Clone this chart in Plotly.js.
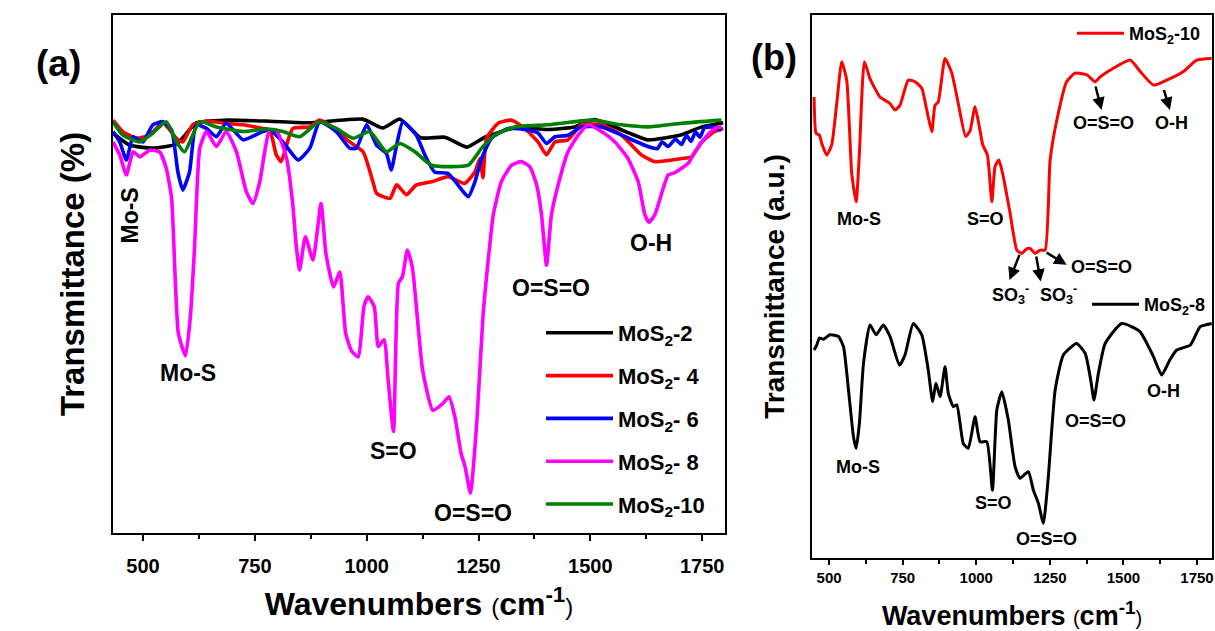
<!DOCTYPE html>
<html>
<head>
<meta charset="utf-8">
<script src="https://cdn.plot.ly/plotly-3.0.1.min.js"></script>
<style>html,body{margin:0;padding:0;background:#fff;}#chart{width:1215px;height:631px;}</style>
</head>
<body>
<div id="chart"></div>
<script>
// ---------- Panel (a): FTIR spectra, wavenumber (cm-1) vs transmittance (%) ----------
const wnMoS2_2 = [433, 470, 522, 575, 620, 687, 783, 873, 991, 1036, 1074, 1121, 1175, 1224, 1264, 1331, 1405, 1465, 1510, 1584, 1628, 1704, 1749, 1797];
const tMoS2_2  = [77.2, 74.9, 74.3, 75.1, 79.2, 79.7, 79.5, 79.2, 79.9, 78.2, 79.9, 76.3, 76.4, 74.5, 76.4, 78.2, 77.9, 78.4, 79.8, 77.3, 75.9, 76.9, 78.4, 79.2];

const wnMoS2_4 = [433, 455, 485, 515, 544, 575, 589, 611, 642, 686, 723, 761, 783, 798, 809, 821, 835, 873, 895, 932, 962, 992, 1014, 1022, 1052, 1067, 1089, 1111, 1145, 1182, 1219, 1242, 1253, 1260, 1268, 1294, 1324, 1353, 1383, 1402, 1421, 1450, 1480, 1525, 1570, 1614, 1644, 1704, 1726, 1749, 1778, 1797];
const tMoS2_4  = [79.7, 77.5, 76.2, 76.8, 79.2, 76.2, 75.5, 78.8, 79.5, 79.1, 78.8, 78.2, 77.8, 73.0, 71.7, 74.9, 78.1, 78.4, 79.7, 77.8, 75.5, 73.6, 67.8, 65.6, 64.6, 67.2, 65.3, 67.2, 67.8, 68.8, 67.5, 69.7, 72.3, 68.6, 76.2, 79.1, 79.7, 78.1, 75.5, 73.0, 75.5, 75.9, 78.8, 78.8, 76.8, 73.0, 71.7, 72.3, 72.6, 75.5, 77.5, 78.1];

const wnMoS2_6 = [433, 448, 463, 478, 500, 522, 545, 564, 578, 589, 604, 619, 642, 664, 686, 724, 768, 783, 813, 847, 873, 895, 932, 962, 977, 1000, 1022, 1044, 1055, 1067, 1081, 1111, 1130, 1152, 1182, 1204, 1227, 1242, 1257, 1279, 1316, 1361, 1383, 1402, 1421, 1450, 1480, 1525, 1570, 1629, 1650, 1660, 1674, 1690, 1704, 1715, 1725, 1735, 1745, 1755, 1771, 1793];
const tMoS2_6  = [77.5, 75.5, 72.0, 76.5, 75.5, 78.8, 79.4, 77.8, 69.7, 66.2, 69.7, 78.8, 78.1, 76.5, 79.1, 75.9, 77.5, 77.8, 75.5, 72.0, 74.3, 79.4, 77.5, 74.3, 74.3, 78.8, 74.9, 73.3, 70.1, 74.9, 79.4, 76.8, 73.0, 69.7, 69.4, 67.2, 64.9, 67.8, 72.3, 76.2, 78.1, 77.8, 77.2, 75.2, 76.5, 76.8, 78.4, 78.4, 76.8, 74.6, 74.2, 75.5, 74.6, 76.0, 75.0, 76.8, 75.6, 77.4, 76.4, 78.2, 78.4, 77.8];

const wnMoS2_8 = [433, 448, 463, 478, 493, 515, 537, 552, 564, 579, 595, 606, 615, 627, 642, 664, 686, 709, 731, 746, 761, 783, 798, 821, 835, 842, 850, 863, 880, 898, 909, 926, 940, 953, 966, 981, 994, 1003, 1017, 1026, 1039, 1048, 1060, 1071, 1080, 1091, 1102, 1125, 1148, 1170, 1184, 1197, 1211, 1220, 1232, 1247, 1260, 1274, 1283, 1301, 1324, 1346, 1365, 1380, 1391, 1402, 1413, 1428, 1450, 1473, 1495, 1525, 1555, 1584, 1607, 1622, 1631, 1644, 1674, 1690, 1704, 1720, 1734, 1756, 1778, 1793];
const tMoS2_8  = [75.5, 73.0, 69.1, 73.6, 72.6, 73.9, 73.6, 70.4, 64.6, 38.6, 34.2, 41.8, 54.6, 74.3, 77.5, 74.6, 77.5, 73.6, 65.9, 63.6, 67.8, 77.8, 77.8, 72.3, 63.3, 56.0, 50.8, 57.2, 52.7, 63.6, 53.9, 47.5, 50.4, 38.6, 35.2, 34.0, 43.7, 45.6, 43.7, 36.0, 37.3, 29.5, 19.6, 48.2, 49.5, 54.6, 51.4, 31.5, 23.7, 25.0, 26.3, 22.5, 15.4, 12.8, 7.7, 22.5, 41.8, 54.6, 61.4, 67.8, 71.0, 71.7, 70.7, 67.2, 61.4, 51.7, 61.4, 67.2, 73.6, 76.8, 78.8, 77.5, 75.5, 72.3, 67.8, 61.4, 60.0, 61.4, 69.1, 69.6, 70.4, 71.5, 73.6, 76.2, 78.1, 78.4];

const wnMoS2_10 = [433, 455, 493, 522, 552, 575, 593, 627, 664, 724, 776, 813, 850, 895, 932, 970, 1007, 1044, 1074, 1108, 1145, 1227, 1257, 1286, 1331, 1406, 1503, 1570, 1629, 1704, 1793];
const tMoS2_10  = [79.4, 76.8, 75.5, 77.2, 79.4, 75.5, 73.6, 79.4, 78.4, 77.5, 78.0, 77.5, 76.5, 79.4, 78.1, 76.2, 77.5, 73.6, 75.2, 73.6, 71.0, 71.0, 74.3, 76.8, 78.4, 78.8, 79.7, 78.8, 78.4, 79.1, 79.7];

const seriesNamesA = ["MoS<sub>2</sub>-2", "MoS<sub>2</sub>- 4", "MoS<sub>2</sub>- 6", "MoS<sub>2</sub>- 8", "MoS<sub>2</sub>-10"];
const seriesColorsA = ["#000000", "#ff0000", "#0000ff", "#ff00ff", "#008000"];

// Peak labels, panel (a)
const labelTextA = ["Mo-S", "Mo-S", "S=O", "O=S=O", "O=S=O", "O-H"];
const labelWnA   = [470, 600, 1060, 1237, 1411, 1635];
const labelTA    = [61.2, 30.9, 15.8, 3.8, 47.3, 56.0];
const labelRotA  = [-90, 0, 0, 0, 0, 0];

// ---------- Panel (b) ----------
const wnB10 = [449, 456, 467, 475, 492, 509, 526, 543, 560, 577, 592, 603, 620, 639, 673, 707, 724, 741, 769, 792, 815, 832, 849, 860, 871, 894, 917, 939, 964, 979, 996, 1013, 1022, 1038, 1053, 1064, 1077, 1092, 1115, 1138, 1155, 1170, 1183, 1200, 1217, 1234, 1251, 1274, 1307, 1336, 1375, 1404, 1421, 1466, 1523, 1557, 1602, 1647, 1704, 1749, 1800];
const tB10  = [84.9, 78.2, 77.9, 76.4, 74.2, 76.1, 83.7, 91.4, 88.0, 70.8, 65.6, 74.5, 91.4, 88.3, 84.9, 83.7, 82.5, 83.4, 88.0, 87.7, 86.5, 82.5, 78.5, 83.4, 84.0, 92.0, 89.3, 83.7, 77.6, 78.7, 83.1, 78.7, 76.1, 74.2, 65.6, 72.1, 73.3, 70.2, 63.5, 56.7, 56.1, 56.9, 57.0, 56.1, 56.7, 56.7, 73.3, 80.7, 87.7, 89.3, 89.0, 87.7, 88.6, 90.2, 91.7, 89.6, 87.1, 88.0, 89.6, 91.7, 92.0];

const wnB8 = [449, 458, 467, 481, 503, 532, 549, 566, 583, 592, 603, 617, 639, 660, 684, 707, 739, 758, 786, 815, 837, 852, 863, 877, 894, 905, 922, 934, 956, 973, 996, 1013, 1036, 1055, 1070, 1087, 1109, 1132, 1149, 1177, 1194, 1211, 1228, 1245, 1268, 1296, 1341, 1370, 1389, 1400, 1415, 1438, 1494, 1556, 1602, 1630, 1658, 1681, 1727, 1761, 1800];
const tB8  = [38.3, 39.2, 40.5, 40.3, 41.1, 40.8, 38.9, 30.9, 22.3, 20.2, 24.8, 35.9, 42.9, 41.1, 42.9, 40.8, 35.5, 37.4, 43.2, 41.1, 34.6, 28.8, 32.2, 29.7, 35.2, 30.3, 27.9, 28.2, 21.1, 20.2, 26.0, 21.4, 21.4, 12.5, 27.3, 30.6, 25.4, 16.8, 14.7, 15.9, 12.5, 10.1, 6.4, 15.0, 30.9, 37.4, 39.5, 37.7, 32.8, 29.1, 34.0, 39.5, 43.2, 41.7, 37.1, 33.7, 36.5, 38.3, 39.2, 42.6, 43.2];

// Peak labels, panel (b)
const labelTextB = ["Mo-S", "S=O", "O=S=O", "O-H", "SO<sub>3</sub><sup>-</sup>", "SO<sub>3</sub><sup>-</sup>", "O=S=O", "Mo-S", "S=O", "O=S=O", "O=S=O", "O-H"];
const labelWnB   = [601, 1030, 1432, 1662, 1115, 1278, 1427, 597, 1060, 1240, 1404, 1636];
const labelTB    = [62.4, 62.4, 80.1, 80.1, 48.5, 48.5, 53.6, 16.8, 10.2, 3.5, 25.3, 30.8];

// Arrows, panel (b): from curve (tail) to label (head)
const arrowTailWn = [1404, 1636, 1149, 1203, 1234];
const arrowTailT  = [87.1, 86.5, 56.1, 55.8, 56.4];
const arrowHeadWn = [1426, 1658, 1113, 1219, 1307];
const arrowHeadT  = [82.5, 82.5, 51.2, 50.9, 54.0];

// ---------- Build ----------
const FONT = "Liberation Sans, Arial, sans-serif";
const xA = [wnMoS2_2, wnMoS2_4, wnMoS2_6, wnMoS2_8, wnMoS2_10];
const yA = [tMoS2_2, tMoS2_4, tMoS2_6, tMoS2_8, tMoS2_10];

const traces = xA.map((xs, i) => ({
  type: "scatter", mode: "lines", x: xs, y: yA[i],
  name: seriesNamesA[i], legendgroup: "g" + i, legendrank: i + 1,
  line: {color: seriesColorsA[i], width: 3.6, shape: "spline", smoothing: 0.5},
  xaxis: "x", yaxis: "y", legend: "legend", hoverinfo: "skip"
}));
traces.push({
  type: "scatter", mode: "lines", x: wnB10, y: tB10, name: "MoS<sub>2</sub>-10",
  line: {color: "#ff0000", width: 3, shape: "spline", smoothing: 0.5},
  xaxis: "x2", yaxis: "y2", legend: "legend2", hoverinfo: "skip"
});
traces.push({
  type: "scatter", mode: "lines", x: wnB8, y: tB8, name: "MoS<sub>2</sub>-8",
  line: {color: "#000000", width: 3, shape: "spline", smoothing: 0.5},
  xaxis: "x2", yaxis: "y2", legend: "legend3", hoverinfo: "skip"
});

const annotations = [];
labelTextA.forEach((t, i) => annotations.push({
  xref: "x", yref: "y", x: labelWnA[i], y: labelTA[i], text: t, showarrow: false,
  textangle: labelRotA[i], font: {family: FONT, size: 23, weight: "bold", color: "#000"}
}));
labelTextB.forEach((t, i) => annotations.push({
  xref: "x2", yref: "y2", x: labelWnB[i], y: labelTB[i], text: t, showarrow: false,
  font: {family: FONT, size: 18, weight: "bold", color: "#000"}
}));
arrowHeadWn.forEach((w, i) => annotations.push({
  xref: "x2", yref: "y2", x: w, y: arrowHeadT[i], axref: "x2", ayref: "y2",
  ax: arrowTailWn[i], ay: arrowTailT[i], text: "", showarrow: true,
  arrowhead: 2, arrowsize: 1, arrowwidth: 2.5, arrowcolor: "#000"
}));
annotations.push({xref: "paper", yref: "paper", x: 34 / 1215, y: 1 - 41 / 631, text: "(a)", showarrow: false,
  font: {family: FONT, size: 37, weight: "bold", color: "#000"}});
annotations.push({xref: "paper", yref: "paper", x: 774 / 1215, y: 1 - 35 / 631, text: "(b)", showarrow: false,
  font: {family: FONT, size: 36, weight: "bold", color: "#000"}});

const axisLine = {showline: true, linewidth: 2, linecolor: "#000", mirror: true, showgrid: false, zeroline: false};

const layout = {
  width: 1215, height: 631,
  margin: {l: 0, r: 0, t: 0, b: 0},
  paper_bgcolor: "#fff", plot_bgcolor: "#fff",
  font: {family: FONT, color: "#000"},
  xaxis: Object.assign({}, axisLine, {
    domain: [113 / 1215, 725 / 1215], anchor: "y", range: [433, 1801],
    tick0: 500, dtick: 250, ticks: "outside", ticklen: 6, tickwidth: 2, tickcolor: "#000",
    ticklabelstandoff: 8,
    tickfont: {family: FONT, size: 20, weight: "bold"},
    minor: {tick0: 500, dtick: 125, ticks: "outside", ticklen: 4, tickwidth: 2, tickcolor: "#000", showgrid: false},
    title: {text: "Wavenumbers <span style='font-size:24px;font-weight:normal'>(</span>cm<sup>-1</sup><span style='font-size:24px;font-weight:normal'>)</span>",
      font: {family: FONT, size: 32, weight: "bold"}, standoff: 17}
  }),
  yaxis: Object.assign({}, axisLine, {
    domain: [98 / 631, 616 / 631], anchor: "x", range: [0, 100],
    ticks: "", showticklabels: false,
    title: {text: "Transmittance (%)", font: {family: FONT, size: 33, weight: "bold"}, standoff: 16}
  }),
  xaxis2: Object.assign({}, axisLine, {
    domain: [812 / 1215, 1212 / 1215], anchor: "y2", range: [442, 1801],
    tick0: 500, dtick: 250, ticks: "outside", ticklen: 5, tickwidth: 2, tickcolor: "#000",
    ticklabelstandoff: 0,
    tickfont: {family: FONT, size: 15, weight: "bold"},
    minor: {tick0: 500, dtick: 125, ticks: "outside", ticklen: 4, tickwidth: 2, tickcolor: "#000", showgrid: false},
    title: {text: "Wavenumbers <span style='font-size:20px;font-weight:normal'>(</span>cm<sup>-1</sup><span style='font-size:20px;font-weight:normal'>)</span>",
      font: {family: FONT, size: 27, weight: "bold"}, standoff: 22}
  }),
  yaxis2: Object.assign({}, axisLine, {
    domain: [73 / 631, 616 / 631], anchor: "x2", range: [0, 100],
    ticks: "", showticklabels: false,
    title: {text: "Transmittance (a.u.)", font: {family: FONT, size: 28, weight: "bold"}, standoff: 17}
  }),
  legend: {x: 541 / 1215, y: 1 - 312 / 631, xanchor: "left", yanchor: "top",
    bgcolor: "rgba(0,0,0,0)", borderwidth: 0, itemwidth: 67, tracegroupgap: 11.2,
    font: {family: FONT, size: 22, weight: "bold", color: "#000"}},
  legend2: {x: 1072 / 1215, y: 1 - 15 / 631, xanchor: "left", yanchor: "top",
    bgcolor: "rgba(0,0,0,0)", borderwidth: 0, itemwidth: 47,
    font: {family: FONT, size: 18, weight: "bold", color: "#000"}},
  legend3: {x: 1087 / 1215, y: 1 - 286 / 631, xanchor: "left", yanchor: "top",
    bgcolor: "rgba(0,0,0,0)", borderwidth: 0, itemwidth: 47,
    font: {family: FONT, size: 18, weight: "bold", color: "#000"}},
  showlegend: true,
  annotations: annotations
};

Plotly.newPlot("chart", traces, layout, {staticPlot: true, displayModeBar: false});
</script>
</body>
</html>
